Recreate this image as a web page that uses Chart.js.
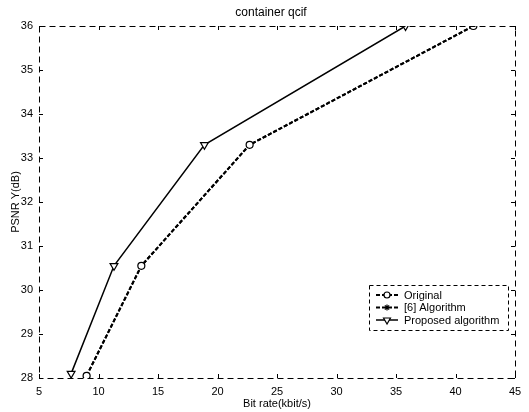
<!DOCTYPE html>
<html>
<head>
<meta charset="utf-8">
<script src="https://cdn.jsdelivr.net/npm/chart.js@4"></script>
<style>
  body { margin: 0; background: #fff; }
  #c { display: block; }
</style>
</head>
<body>
<canvas id="c" width="529" height="412"></canvas>
<script>
// values
const seriesNames = ["Original", "[6] Algorithm", "Proposed algorithm"];
const originalRate = [9.0, 13.6, 22.7, 41.5];
const originalPsnr = [28.05, 30.55, 33.3, 36.0];
const ref6Rate = [9.0, 13.6, 22.7, 41.5];
const ref6Psnr = [28.05, 30.55, 33.3, 36.0];
const proposedRate = [7.7, 11.3, 18.9, 35.8];
const proposedPsnr = [28.1, 30.55, 33.3, 36.0];

const FONT = "'Liberation Sans', Arial, sans-serif";

function pts(xs, ys) {
  return xs.map((x, i) => ({ x: x, y: ys[i] }));
}

const styles = [
  { dash: [4, 2], width: 2, pointStyle: 'circle', radius: 3.5, rotation: 0 },
  { dash: [4, 2], width: 2, pointStyle: 'star', radius: 3.5, rotation: 0 },
  { dash: [], width: 1.5, pointStyle: 'triangle', radius: 4.5, rotation: 180 }
];

// box, inside ticks, title and legend in the MATLAB style
const matlabBox = {
  id: 'matlabBox',
  afterDraw(chart) {
    const { ctx, chartArea: a, scales: { x, y } } = chart;
    ctx.save();
    ctx.strokeStyle = '#000';
    ctx.lineWidth = 1;
    ctx.setLineDash([6, 4]);
    ctx.strokeRect(a.left + 0.5, a.top + 0.5, a.right - a.left, a.bottom - a.top);
    ctx.setLineDash([]);
    ctx.beginPath();
    x.ticks.forEach(t => {
      const px = Math.round(x.getPixelForValue(t.value)) + 0.5;
      ctx.moveTo(px, a.bottom); ctx.lineTo(px, a.bottom - 4);
      ctx.moveTo(px, a.top); ctx.lineTo(px, a.top + 4);
    });
    y.ticks.forEach(t => {
      const py = Math.round(y.getPixelForValue(t.value)) + 0.5;
      ctx.moveTo(a.left, py); ctx.lineTo(a.left + 4, py);
      ctx.moveTo(a.right, py); ctx.lineTo(a.right - 4, py);
    });
    ctx.stroke();

    // title
    ctx.fillStyle = '#000';
    ctx.font = '12px ' + FONT;
    ctx.textAlign = 'center';
    ctx.textBaseline = 'middle';
    ctx.fillText('container qcif', 271, 13);

    // legend
    const lx = 369, ly = 285, lw = 139, lh = 45;
    ctx.fillStyle = '#fff';
    ctx.fillRect(lx, ly, lw, lh);
    ctx.setLineDash([4, 3]);
    ctx.strokeRect(lx + 0.5, ly + 0.5, lw, lh);
    ctx.setLineDash([]);
    ctx.font = '11px ' + FONT;
    ctx.textAlign = 'left';
    seriesNames.forEach((name, i) => {
      const s = styles[i];
      const yy = ly + 10 + i * 12.5;
      ctx.strokeStyle = '#000';
      ctx.lineWidth = s.width;
      ctx.setLineDash(s.dash);
      ctx.beginPath();
      ctx.moveTo(376, yy); ctx.lineTo(398, yy);
      ctx.stroke();
      ctx.setLineDash([]);
      ctx.lineWidth = 1.2;
      ctx.fillStyle = '#fff';
      Chart.helpers.drawPoint(ctx, {
        pointStyle: s.pointStyle, radius: s.radius - 0.5, rotation: s.rotation, borderWidth: 1.2
      }, 387, yy);
      ctx.fillStyle = '#000';
      ctx.fillText(name, 404, yy + 0.5);
    });
    ctx.restore();
  }
};

const allData = [pts(originalRate, originalPsnr), pts(ref6Rate, ref6Psnr), pts(proposedRate, proposedPsnr)];

new Chart(document.getElementById('c'), {
  type: 'line',
  data: {
    datasets: seriesNames.map((name, i) => ({
      label: name,
      data: allData[i],
      borderColor: '#000',
      backgroundColor: '#fff',
      borderWidth: styles[i].width,
      borderDash: styles[i].dash,
      pointStyle: styles[i].pointStyle,
      pointRadius: styles[i].radius,
      pointRotation: styles[i].rotation,
      pointBorderWidth: 1.2,
      pointBorderColor: '#000',
      pointBackgroundColor: '#fff',
      tension: 0,
      fill: false
    }))
  },
  options: {
    responsive: false,
    animation: false,
    layout: { padding: { top: 26, right: 14, left: 0, bottom: 0 } },
    plugins: { legend: { display: false }, title: { display: false }, tooltip: { enabled: false } },
    scales: {
      x: {
        type: 'linear',
        min: 5, max: 45,
        grid: { display: false, drawTicks: false },
        border: { display: false },
        ticks: { stepSize: 5, color: '#000', padding: 7, font: { family: FONT, size: 11 }, maxRotation: 0 },
        title: { display: true, text: 'Bit rate(kbit/s)', color: '#000', font: { family: FONT, size: 11 }, padding: { top: 0, bottom: 1 } },
        afterFit(s) { s.height = 34; }
      },
      y: {
        min: 28, max: 36,
        grid: { display: false, drawTicks: false },
        border: { display: false },
        ticks: { stepSize: 1, color: '#000', padding: 6, font: { family: FONT, size: 11 } },
        title: { display: true, text: 'PSNR Y(dB)', color: '#000', font: { family: FONT, size: 11 }, padding: { top: 9, bottom: 0 } },
        afterFit(s) { s.width = 39; }
      }
    }
  },
  plugins: [matlabBox]
});
</script>
</body>
</html>
